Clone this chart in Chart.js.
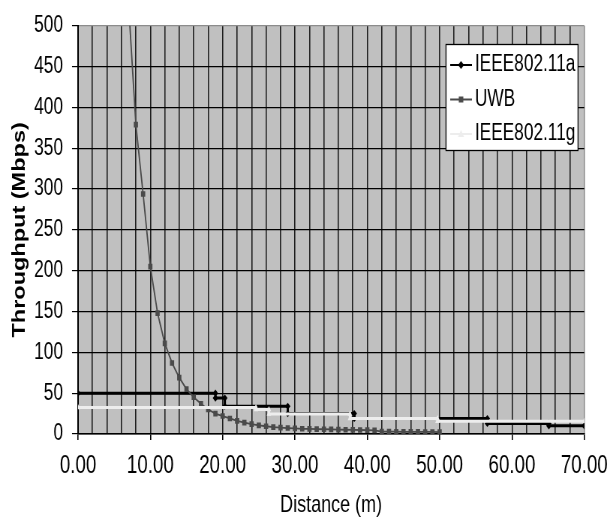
<!DOCTYPE html>
<html>
<head>
<meta charset="utf-8">
<script src="https://cdn.jsdelivr.net/npm/chart.js@4.4.1/dist/chart.umd.min.js"></script>
<style>
  html, body { margin: 0; padding: 0; background: #ffffff; overflow: hidden; }
  #wrap { width: 616px; height: 529px; }
  /* the reference is a horizontally squeezed chart: draw wider, show at 616px */
  #c { width: 616px !important; height: 529px !important; display: block; }
</style>
</head>
<body>
<div id="wrap"><canvas id="c" width="821" height="529"></canvas></div>
<script>
// ---- data ----
const seriesNames = ['IEEE802.11a', 'UWB', 'IEEE802.11g'];

const dist11a = [0, 19, 19, 20.3, 20.3, 29, 29, 38.2, 38.2, 56.6, 56.6, 65.1, 65.1, 70];
const thr11a  = [50, 50, 44, 44, 34, 34, 25, 25, 19, 19, 13, 13, 10, 10];

const distUWB = [7, 8, 9, 10, 11, 12, 13, 14, 15, 16, 17, 18, 19, 20, 21, 22, 23, 24, 25, 26, 27, 28,
                 29, 30, 31, 32, 33, 34, 35, 36, 37, 38, 39, 40, 41, 42, 43, 44, 45, 46, 47, 48, 49, 50];
const thrUWB  = [525, 379, 294, 205, 148, 111, 87, 69, 55, 45, 37, 30, 25, 22, 19, 16, 14, 12, 10.5, 9.5, 8.5, 7.8,
                 7.3, 6.8, 6.4, 6.2, 6.0, 5.8, 5.6, 5.4, 5.2, 5.0, 4.9, 4.7, 4.5, 3.0, 2.9, 2.8, 2.7, 2.6, 2.6, 2.5, 2.5, 2.4];

const dist11g = [0, 24.6, 24.6, 26.4, 26.4, 37.6, 37.6, 49.7, 49.7, 70];
const thr11g  = [32.5, 32.5, 30, 30, 24.5, 24.5, 19, 19, 15.5, 15.5];

const xTickValues = [0, 10, 20, 30, 40, 50, 60, 70];
const yTickValues = [0, 50, 100, 150, 200, 250, 300, 350, 400, 450, 500];

const xTitle = 'Distance (m)';
const yTitle = 'Throughput (Mbps)';

// ---- helpers ----
const S = 616 / 821;              // horizontal squeeze of the displayed canvas
const X = (px) => px / S;         // displayed px -> canvas px (horizontal)
function pairs(xs, ys) { return xs.map((x, i) => ({ x: x, y: ys[i] })); }

const FONT = "'Liberation Sans', Arial, sans-serif";

const colors = ['#000000', '#4a4a4a', '#ededed'];
const pstyles = ['rectRot', 'rect', 'triangle'];

function legendIcon(color, style) {
  const c = document.createElement('canvas');
  c.width = 29; c.height = 12;
  const g = c.getContext('2d');
  g.strokeStyle = color; g.lineWidth = 2;
  g.beginPath(); g.moveTo(0, 6); g.lineTo(29, 6); g.stroke();
  g.fillStyle = color;
  if (style === 'rectRot') {
    g.beginPath(); g.moveTo(14.5, 2); g.lineTo(18.5, 6); g.lineTo(14.5, 10); g.lineTo(10.5, 6); g.closePath(); g.fill();
  } else if (style === 'rect') {
    g.fillRect(11.5, 3, 6, 6);
  } else {
    g.beginPath(); g.moveTo(14.5, 2); g.lineTo(18.5, 9); g.lineTo(10.5, 9); g.closePath(); g.fill();
  }
  return c;
}
const icons = colors.map((c, i) => legendIcon(c, pstyles[i]));

const plotBg = {
  id: 'plotBg',
  beforeDraw(chart) {
    const a = chart.chartArea, ctx = chart.ctx;
    ctx.save();
    ctx.fillStyle = '#c0c0c0';
    ctx.fillRect(a.left, a.top, a.right - a.left, a.bottom - a.top);
    ctx.restore();
  }
};

const legendPlace = {
  id: 'legendPlace',
  afterLayout(chart) {
    const lg = chart.legend;
    if (!lg) return;
    lg.left = X(446) + 1.5; lg.top = 42; lg.right = 815; lg.bottom = 200;
    lg.width = lg.right - lg.left; lg.height = lg.bottom - lg.top;
  },
  afterDatasetsDraw(chart) {
    const ctx = chart.ctx;
    const l = X(446), r = X(578);
    ctx.save();
    ctx.fillStyle = '#ffffff';
    ctx.fillRect(l, 44, r - l, 106);
    ctx.strokeStyle = '#000000';
    ctx.lineWidth = 1.3;
    ctx.strokeRect(l, 44.5, r - l, 106);
    ctx.restore();
    chart.legend.draw();
  }
};

const datasets = [
  { label: seriesNames[0], data: pairs(dist11a, thr11a), borderColor: colors[0], backgroundColor: colors[0],
    borderWidth: 3, pointStyle: pstyles[0], pointRadius: 3.6, pointBorderWidth: 0, order: 3 },
  { label: seriesNames[1], data: pairs(distUWB, thrUWB), borderColor: colors[1], backgroundColor: colors[1],
    borderWidth: 1.8, pointStyle: pstyles[1], pointRadius: 4, pointBorderWidth: 0, order: 2 },
  { label: seriesNames[2], data: pairs(dist11g, thr11g), borderColor: colors[2], backgroundColor: colors[2],
    borderWidth: 3, pointStyle: pstyles[2], pointRadius: 3.5, pointBorderWidth: 0, order: 1 }
];

new Chart(document.getElementById('c'), {
  type: 'scatter',
  data: { datasets: datasets },
  options: {
    responsive: false,
    animation: false,
    devicePixelRatio: 1,
    showLine: true,
    layout: { padding: { top: 22, right: 821 - X(592), left: 0, bottom: 0 } },
    elements: { line: { tension: 0 } },
    plugins: {
      tooltip: { enabled: false },
      legend: {
        position: 'chartArea',
        align: 'start',
        labels: {
          usePointStyle: true,
          boxWidth: 14,
          padding: 11.5,
          color: '#000000',
          font: { family: FONT, size: 23 },
          generateLabels(chart) {
            return chart.data.datasets.map((ds, i) => ({
              text: ds.label, pointStyle: icons[i], fillStyle: 'rgba(0,0,0,0)', strokeStyle: 'rgba(0,0,0,0)',
              lineWidth: 0, hidden: false, datasetIndex: i, fontColor: '#000000'
            }));
          }
        }
      }
    },
    scales: {
      x: {
        type: 'linear', min: 0, max: 70,
        afterFit(s) { s.height = 95; },
        afterBuildTicks(s) {
          const t = [];
          for (let v = 0; v <= 70; v += 2) t.push({ value: v });
          s.ticks = t;
        },
        ticks: {
          autoSkip: false, maxRotation: 0, padding: 11, color: '#000000',
          font: { family: FONT, size: 25 },
          callback(v) { return xTickValues.includes(v) ? v.toFixed(2) : ''; }
        },
        grid: {
          tickLength: 6,
          lineWidth: 1.6,
          color(ctx) { return ctx.tick && ctx.tick.value === 70 ? '#8c8c8c' : '#1e1e1e'; },
          tickColor(ctx) { return ctx.tick && xTickValues.includes(ctx.tick.value) ? '#000000' : 'rgba(0,0,0,0)'; }
        },
        border: { color: '#000000', width: 1.5 },
        title: { display: true, text: xTitle, color: '#000000', font: { family: FONT, size: 24 },
                 padding: { top: 0, bottom: 9.6 } }
      },
      y: {
        type: 'linear', min: 0, max: 500,
        afterFit(s) { s.width = X(78); },
        afterBuildTicks(s) { s.ticks = yTickValues.map(v => ({ value: v })); },
        ticks: { padding: 12, color: '#000000', font: { family: FONT, size: 23 } },
        grid: {
          tickLength: 8,
          lineWidth: 1.2,
          color(ctx) { return ctx.tick && ctx.tick.value === 500 ? '#8c8c8c' : '#000000'; },
          tickColor: '#000000'
        },
        border: { color: '#000000', width: 2 },
        title: { display: true, text: yTitle, color: '#000000',
                 font: { family: FONT, size: 23.5, weight: 'bold' },
                 padding: { top: 12.6, bottom: 0 } }
      }
    }
  },
  plugins: [plotBg, legendPlace]
});
</script>
</body>
</html>
